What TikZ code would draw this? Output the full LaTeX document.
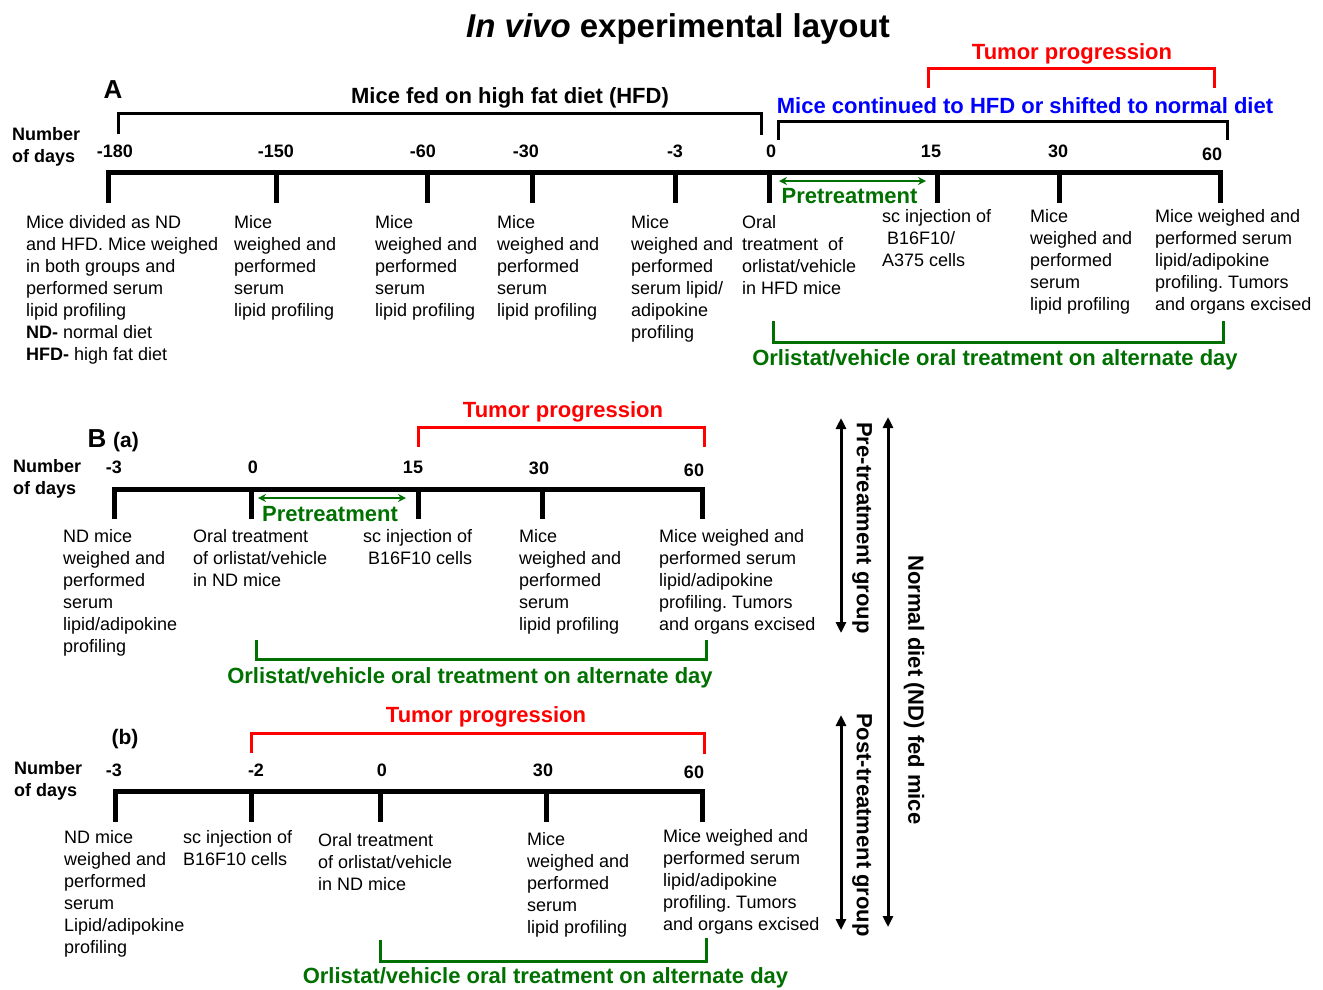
\documentclass[tikz,border=0pt]{standalone}
\usepackage{fontspec}
\setmainfont{Liberation Sans}
\usetikzlibrary{arrows.meta}
\definecolor{dkgreen}{RGB}{0,112,0}
\definecolor{tred}{RGB}{255,0,0}
\definecolor{tblue}{RGB}{0,0,255}
\frenchspacing
\begin{document}
\begin{tikzpicture}[x=1pt,y=-1pt,
 body/.style={anchor=north west,inner sep=0pt,align=left,font=\fontsize{18}{22}\selectfont},
 lbl/.style={anchor=base,inner sep=0pt,font=\bfseries\fontsize{18}{22}\selectfont},
 sub/.style={anchor=base,inner sep=0pt,font=\bfseries\fontsize{21}{24}\selectfont},
 days/.style={anchor=north west,inner sep=0pt,align=left,font=\bfseries\fontsize{18}{22.5}\selectfont},
 hd/.style={anchor=base,inner sep=0pt,font=\bfseries\fontsize{22}{26}\selectfont},
 panel/.style={anchor=base,inner sep=0pt,font=\bfseries\fontsize{26}{30}\selectfont},
 vlab/.style={anchor=center,inner sep=0pt,rotate=-90,font=\bfseries\fontsize{22}{26}\selectfont},
 tline/.style={line width=5pt,line join=miter},
 brk/.style={line width=3pt,line join=miter},
 garr/.style={dkgreen,line width=2pt,{Stealth[length=8pt,width=8pt]}-{Stealth[length=8pt,width=8pt]}},
 karr/.style={line width=3pt,{Triangle[length=11pt,width=10pt]}-{Triangle[length=11pt,width=10pt]}}
]
\useasboundingbox (0,0) rectangle (1323,989);

% ---------- Title ----------
\node[anchor=base,inner sep=0pt,font=\bfseries\fontsize{33}{40}\selectfont] (title) at (678,37) {{\itshape In vivo} experimental layout};

% ---------- Panel A ----------
\node[panel] (pA) at (113,98) {A};
\node[hd] (hfd) at (510,103) {Mice fed on high fat diet (HFD)};
\node[hd,text=tblue] (cont) at (1025,113) {Mice continued to HFD or shifted to normal diet};
\node[hd,text=tred] (tpA) at (1072,59) {Tumor progression};
\node[days] (ndA) at (12,127) {Number\\of days};

\draw[brk] (118,134) -- (118,113.5) -- (761,113.5) -- (761,135);
\draw[brk] (778,140) -- (778,121) -- (1227,121) -- (1227,140);
\draw[brk,tred] (928,88) -- (928,68) -- (1214,68) -- (1214,88);

\node[lbl] (a1) at (115,157) {-180};
\node[lbl] (a2) at (276,157) {-150};
\node[lbl] (a3) at (423,157) {-60};
\node[lbl] (a4) at (526,157) {-30};
\node[lbl] (a5) at (675,157) {-3};
\node[lbl] (a6) at (771,157) {0};
\node[lbl] (a7) at (931,157) {15};
\node[lbl] (a8) at (1058,157) {30};
\node[lbl] (a9) at (1212,160) {60};

\draw[tline] (108,203) -- (108,172.5) -- (1220,172.5) -- (1220,203);
\foreach \x in {276,427,532,675,769,937,1059} \draw[tline] (\x,172.5) -- (\x,203);

\coordinate (pa1) at (779,181);
\coordinate (pa2) at (926,181);
\draw[garr] (pa1) -- (pa2);
\node[hd,text=dkgreen] (ptA) at (849.5,203) {Pretreatment};

\node[body] (tA1) at (26,215) {Mice divided as ND\\and HFD. Mice weighed\\in both groups and\\performed serum\\lipid profiling\\\textbf{ND-} normal diet\\\textbf{HFD-} high fat diet};
\node[body] (tA2) at (234,215) {Mice\\weighed and\\performed\\serum\\lipid profiling};
\node[body] (tA3) at (375,215) {Mice\\weighed and\\performed\\serum\\lipid profiling};
\node[body] (tA4) at (497,215) {Mice\\weighed and\\performed\\serum\\lipid profiling};
\node[body] (tA5) at (631,215) {Mice\\weighed and\\performed\\serum lipid/\\adipokine\\profiling};
\node[body] (tA6) at (742,215) {Oral\\treatment\ \ of\\orlistat/vehicle\\in HFD mice};
\node[body] (tA7) at (882,209) {sc injection of\\\hspace*{5pt}B16F10/\\A375 cells};
\node[body] (tA8) at (1030,209) {Mice\\weighed and\\performed\\serum\\lipid profiling};
\node[body] (tA9) at (1155,209) {Mice weighed and\\performed serum\\lipid/adipokine\\profiling. Tumors\\and organs excised};

\draw[brk,dkgreen] (773,321) -- (773,342) -- (1223,342) -- (1223,321);
\node[hd,text=dkgreen] (orA) at (995,365) {Orlistat/vehicle oral treatment on alternate day};

% ---------- Panel B (a) ----------
\node[panel] (pB) at (97,447) {B};
\node[sub] (pBa) at (126,447) {(a)};
\node[hd,text=tred] (tpBa) at (563,417) {Tumor progression};
\draw[brk,tred] (418,447) -- (418,427) -- (704,427) -- (704,447);
\node[days] (ndBa) at (13,459) {Number\\of days};

\node[lbl] (b1) at (114,473) {-3};
\node[lbl] (b2) at (253,473) {0};
\node[lbl] (b3) at (413,473) {15};
\node[lbl] (b4) at (539,474) {30};
\node[lbl] (b5) at (694,476) {60};

\draw[tline] (114,519) -- (114,489) -- (702,489) -- (702,519);
\foreach \x in {251,418,542} \draw[tline] (\x,489) -- (\x,519);

\coordinate (pb1) at (258,498);
\coordinate (pb2) at (406,498);
\draw[garr] (pb1) -- (pb2);
\node[hd,text=dkgreen] (ptBa) at (330,521) {Pretreatment};

\node[body] (tB1) at (63,529) {ND mice\\weighed and\\performed\\serum\\lipid/adipokine\\profiling};
\node[body] (tB2) at (193,529) {Oral treatment\\of orlistat/vehicle\\in ND mice};
\node[body] (tB3) at (363,529) {sc injection of\\\hspace*{5pt}B16F10 cells};
\node[body] (tB4) at (519,529) {Mice\\weighed and\\performed\\serum\\lipid profiling};
\node[body] (tB5) at (659,529) {Mice weighed and\\performed serum\\lipid/adipokine\\profiling. Tumors\\and organs excised};

\draw[brk,dkgreen] (256,640) -- (256,659) -- (706,659) -- (706,640);
\node[hd,text=dkgreen] (orBa) at (470,683) {Orlistat/vehicle oral treatment on alternate day};

% ---------- Panel B (b) ----------
\node[sub] (pBb) at (125,744) {(b)};
\node[hd,text=tred] (tpBb) at (486,722) {Tumor progression};
\draw[brk,tred] (251,753) -- (251,733) -- (704,733) -- (704,754);
\node[days] (ndBb) at (14,761) {Number\\of days};

\node[lbl] (c1) at (114,776) {-3};
\node[lbl] (c2) at (256,776) {-2};
\node[lbl] (c3) at (382,776) {0};
\node[lbl] (c4) at (543,776) {30};
\node[lbl] (c5) at (694,778) {60};

\draw[tline] (115,822) -- (115,791) -- (702,791) -- (702,822);
\foreach \x in {251,380,546} \draw[tline] (\x,791) -- (\x,822);

\node[body] (tC1) at (64,830) {ND mice\\weighed and\\performed\\serum\\Lipid/adipokine\\profiling};
\node[body] (tC2) at (183,830) {sc injection of\\B16F10 cells};
\node[body] (tC3) at (318,833) {Oral treatment\\of orlistat/vehicle\\in ND mice};
\node[body] (tC4) at (527,832) {Mice\\weighed and\\performed\\serum\\lipid profiling};
\node[body] (tC5) at (663,829) {Mice weighed and\\performed serum\\lipid/adipokine\\profiling. Tumors\\and organs excised};

\draw[brk,dkgreen] (380,940) -- (380,961) -- (706,961) -- (706,938);
\node[hd,text=dkgreen] (orBb) at (545.5,983) {Orlistat/vehicle oral treatment on alternate day};

% ---------- Right-side group arrows ----------
\coordinate (pre1) at (841,418);
\coordinate (pre2) at (841,633);
\coordinate (post1) at (841,715);
\coordinate (post2) at (841,930);
\coordinate (nd1) at (888,417);
\coordinate (nd2) at (888,927);
\draw[karr] (pre1) -- (pre2);
\draw[karr] (post1) -- (post2);
\draw[karr] (nd1) -- (nd2);
\node[vlab] (vpre) at (862,528) {Pre-treatment group};
\node[vlab] (vpost) at (862,825) {Post-treatment group};
\node[vlab] (vnd) at (914,690) {Normal diet (ND) fed mice};
\end{tikzpicture}
\end{document}
